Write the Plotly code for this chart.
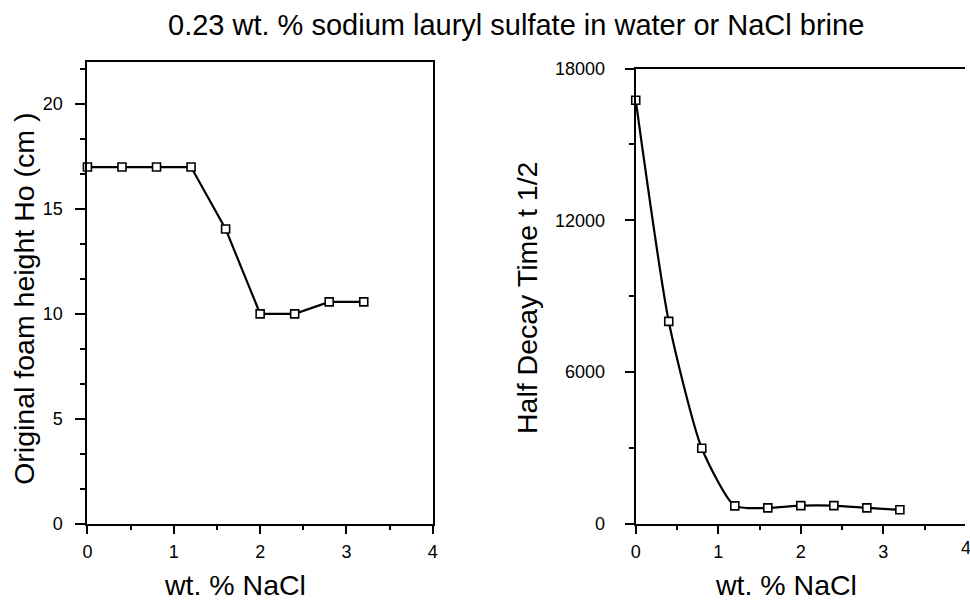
import plotly.graph_objects as go

# ---- data ----
nacl_wt = [0, 0.4, 0.8, 1.2, 1.6, 2.0, 2.4, 2.8, 3.2]
foam_height = [17.0, 17.0, 17.0, 17.0, 14.05, 10.0, 10.0, 10.57, 10.57]
half_decay = [16750, 8000, 2980, 700, 620, 710, 710, 620, 545]

x_ticks = [0, 1, 2, 3, 4]
left_y_ticks = [0, 5, 10, 15, 20]
right_y_ticks = [0, 6000, 12000, 18000]

title_text = "0.23 wt. % sodium lauryl sulfate in water or NaCl brine"
x_title = "wt. % NaCl"
left_y_title = "Original foam height Ho (cm )"
right_y_title = "Half Decay Time t 1/2"

FONT = "Liberation Sans, Arial, sans-serif"
W, H = 970, 600

fig = go.Figure()

marker_style = dict(symbol="square", size=8, color="white",
                    line=dict(color="black", width=1.6))

fig.add_trace(go.Scatter(x=nacl_wt, y=foam_height, mode="lines+markers",
                         line=dict(color="black", width=2.2),
                         marker=marker_style, cliponaxis=False,
                         xaxis="x", yaxis="y", showlegend=False))
fig.add_trace(go.Scatter(x=nacl_wt, y=half_decay, mode="lines+markers",
                         line=dict(color="black", width=2.2, shape="spline",
                                   smoothing=0.6),
                         marker=marker_style, cliponaxis=False,
                         xaxis="x2", yaxis="y2", showlegend=False))

tickfont = dict(family=FONT, size=18, color="black")

common = dict(showline=True, linewidth=2, linecolor="black", ticks="outside",
              tickwidth=2, tickcolor="black", showgrid=False,
              zeroline=False, tickfont=tickfont, fixedrange=True)

fig.update_layout(
    width=W, height=H,
    margin=dict(l=0, r=0, t=0, b=0),
    paper_bgcolor="white", plot_bgcolor="white",
    xaxis=dict(domain=[83.3 / W, 432.3 / W], range=[0, 4], anchor="y",
               tickmode="array", tickvals=x_ticks, ticklen=8,
               ticktext=[str(v) for v in x_ticks], mirror=True,
               minor=dict(dtick=0.5, tick0=0, ticks="outside", ticklen=4,
                          tickwidth=2, tickcolor="black"),
               ticklabelstandoff=3, **common),
    yaxis=dict(domain=[1 - 531.3 / H, 1 - 54 / H], range=[0, 22], anchor="x",
               tickmode="array", tickvals=left_y_ticks, ticklen=10,
               ticktext=[str(v) for v in left_y_ticks], mirror=True,
               minor=dict(dtick=5 / 3, tick0=0, ticks="outside", ticklen=5,
                          tickwidth=2, tickcolor="black"),
               ticklabelstandoff=9, **common),
    xaxis2=dict(domain=[637.3 / W, 1.0], range=[0, (W - 637.3) / 83.4],
                anchor="y2", tickmode="array", tickvals=x_ticks, ticklen=8,
                ticktext=[str(v) for v in x_ticks], mirror=True,
                minor=dict(dtick=0.5, tick0=0, ticks="outside", ticklen=4,
                           tickwidth=2, tickcolor="black"),
                ticklabelstandoff=3, **common),
    yaxis2=dict(domain=[1 - 531.3 / H, 1 - 60.7 / H], range=[0, 18000],
                anchor="x2", tickmode="array", tickvals=right_y_ticks,
                ticklen=9,
                ticktext=[str(v) for v in right_y_ticks], mirror=False,
                minor=dict(dtick=3000, tick0=0, ticks="outside", ticklen=5,
                           tickwidth=2, tickcolor="black"),
                ticklabelstandoff=16, **common),
)

big = dict(family=FONT, size=28.5, color="black")
ann = [
    dict(text=title_text, x=516.7 / W, y=1 - 16 / H, font=dict(big, size=29),
         xanchor="center", yanchor="middle"),
    dict(text=x_title, x=232.5 / W, y=1 - 595 / H, font=big,
         xanchor="center", yanchor="middle", borderpad=0),
    dict(text=x_title, x=788.7 / W, y=1 - 595 / H, font=big,
         xanchor="center", yanchor="middle", borderpad=0),
    dict(text=left_y_title, x=19 / W, y=1 - 299 / H, font=big, textangle=-90,
         xanchor="center", yanchor="middle"),
    dict(text=right_y_title, x=528 / W, y=1 - 298.4 / H, font=big,
         textangle=-90, xanchor="center", yanchor="middle"),
    dict(text="4", x=970.7 / W, y=1 - 557 / H, font=tickfont,
         xanchor="center", yanchor="middle"),
]
for a in ann:
    a.update(xref="paper", yref="paper", showarrow=False)
fig.update_layout(annotations=ann)

fig.write_html("out.html")
